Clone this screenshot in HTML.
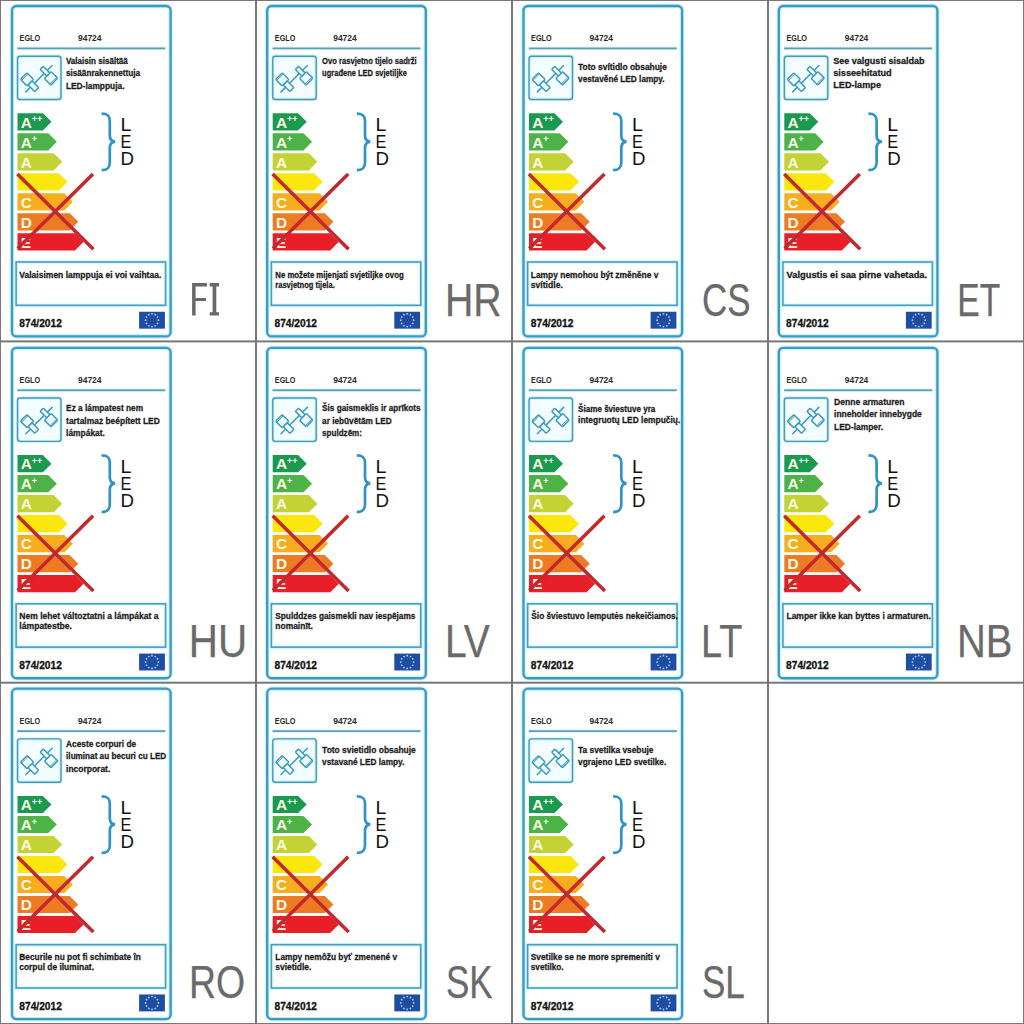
<!DOCTYPE html>
<html><head><meta charset="utf-8"><style>
html,body{margin:0;padding:0;background:#fff;width:1024px;height:1024px;overflow:hidden}
svg{display:block}
text{font-family:"Liberation Sans",sans-serif}
</style></head><body>
<svg width="1024" height="1024" viewBox="0 0 1024 1024">
<rect x="0" y="0" width="1024" height="1024" fill="#fff"/>
<g transform="translate(0,0.0)">
<rect x="12.0" y="6.0" width="158.6" height="330.4" rx="4.5" ry="4.5" fill="#fff" stroke="#c6f4fc" stroke-width="4.6"/>
<rect x="12.0" y="6.0" width="158.6" height="330.4" rx="4.5" ry="4.5" fill="none" stroke="#4197bf" stroke-width="2.3"/>
<text x="19.6" y="41.3" font-size="8.7" font-weight="700" fill="#2a2a2a" textLength="20.6" lengthAdjust="spacingAndGlyphs">EGLO</text>
<text x="78.0" y="41.3" font-size="8.7" font-weight="700" fill="#2a2a2a" textLength="23.54" lengthAdjust="spacingAndGlyphs">94724</text>
<rect x="17.3" y="46.6" width="148" height="3.6" fill="#d2f6fb"/>
<rect x="17.3" y="47.55" width="148" height="1.7" fill="#5f9cad"/>
<rect x="17.55" y="56.2" width="43.45" height="43.3" rx="2.5" ry="2.5" fill="#f3fdff" stroke="#c8f3fb" stroke-width="3.4"/>
<rect x="17.55" y="56.2" width="43.45" height="43.3" rx="2.5" ry="2.5" fill="none" stroke="#4f98b4" stroke-width="1.4"/>
<g transform="translate(39.55,78.15) rotate(-45)" fill="none" stroke="#3d9bbd" stroke-width="1.5" stroke-linejoin="round" stroke-linecap="round">
<line x1="-19.4" y1="0" x2="17.8" y2="0"/>
<rect x="-14.4" y="-12.6" width="9.3" height="9.3" rx="1.2" fill="#f0fcff"/>
<line x1="-14" y1="-11.1" x2="-5.5" y2="-11.1" stroke-width="0.9"/>
<rect x="-12.9" y="-3.3" width="5.6" height="9.3" rx="0.8" fill="#f0fcff"/>
<rect x="3.2" y="3.6" width="9.6" height="9.3" rx="1.2" fill="#f0fcff"/>
<line x1="3.6" y1="11.4" x2="12.4" y2="11.4" stroke-width="0.9"/>
<rect x="6.6" y="-5.7" width="4.4" height="9.3" rx="0.8" fill="#f0fcff"/>
</g>
<path d="M17.5 113.20 H42.90 L51.50 121.80 L42.90 130.40 H17.5 Z" fill="#1a9a4f"/>
<text x="20.8" y="127.60" font-size="15.4" font-weight="700" fill="#fffbe6">A</text>
<path d="M17.5 133.20 H48.25 L56.85 141.80 L48.25 150.40 H17.5 Z" fill="#4db349"/>
<text x="20.8" y="147.60" font-size="15.4" font-weight="700" fill="#fffbe6">A</text>
<path d="M17.5 153.20 H53.60 L62.20 161.80 L53.60 170.40 H17.5 Z" fill="#c3d234"/>
<text x="20.8" y="167.60" font-size="15.4" font-weight="700" fill="#fffbe6">A</text>
<path d="M17.5 173.20 H58.95 L67.55 181.80 L58.95 190.40 H17.5 Z" fill="#fbe70e"/>
<path d="M17.5 193.20 H64.30 L72.90 201.80 L64.30 210.40 H17.5 Z" fill="#f6ae1e"/>
<text x="20.8" y="207.60" font-size="15.4" font-weight="700" fill="#fffbe6">C</text>
<path d="M17.5 213.20 H69.65 L78.25 221.80 L69.65 230.40 H17.5 Z" fill="#ed7b24"/>
<text x="20.8" y="227.60" font-size="15.4" font-weight="700" fill="#fffbe6">D</text>
<path d="M17.5 233.20 H75.00 L83.60 241.80 L75.00 250.40 H17.5 Z" fill="#e81e28"/>
<text x="20.8" y="247.60" font-size="15.4" font-weight="700" fill="#fffbe6">E</text>
<text x="31.8" y="122.1" font-size="9" font-weight="700" fill="#f4fff4">++</text>
<text x="31.8" y="142.1" font-size="9" font-weight="700" fill="#f4fff4">+</text>
<path d="M17.4 174 L93.4 249.2 M93 174 L17.7 248.6" stroke="#c4282d" stroke-width="3.5" fill="none"/>
<path d="M101.6 113.6 C108 113.6 109.8 116 109.8 121 V135.5 C109.8 139 111.5 141.3 115 141.6 C111.5 142 109.8 144.2 109.8 148 V162.5 C109.8 167.5 108 170.2 101.6 170.2" fill="none" stroke="#3094c2" stroke-width="2.7"/>
<text x="120.4" y="131.3" font-size="18.6" font-weight="400" fill="#111" textLength="10.9" lengthAdjust="spacingAndGlyphs">L</text>
<text x="120.4" y="148.2" font-size="18.6" font-weight="400" fill="#111" textLength="10.9" lengthAdjust="spacingAndGlyphs">E</text>
<text x="120.4" y="165.1" font-size="18.6" font-weight="400" fill="#111" textLength="13.5" lengthAdjust="spacingAndGlyphs">D</text>
<rect x="16.1" y="262.0" width="149.5" height="43.3" fill="#fff" stroke="#ccf6fb" stroke-width="3.6"/>
<rect x="16.1" y="262.0" width="149.5" height="43.3" fill="none" stroke="#4e9dbd" stroke-width="1.6"/>
<text x="19.3" y="327.3" font-size="10.0" font-weight="700" fill="#111" stroke="#111" stroke-width="0.3" textLength="42.55" lengthAdjust="spacingAndGlyphs">874/2012</text>
<rect x="139.1" y="311.75" width="25.8" height="16.9" fill="#1d4ea4"/><circle cx="158.40" cy="320.20" r="0.85" fill="#c4d8ec"/><circle cx="157.54" cy="323.40" r="0.85" fill="#c4d8ec"/><circle cx="155.20" cy="325.74" r="0.85" fill="#c4d8ec"/><circle cx="152.00" cy="326.60" r="0.85" fill="#c4d8ec"/><circle cx="148.80" cy="325.74" r="0.85" fill="#c4d8ec"/><circle cx="146.46" cy="323.40" r="0.85" fill="#c4d8ec"/><circle cx="145.60" cy="320.20" r="0.85" fill="#c4d8ec"/><circle cx="146.46" cy="317.00" r="0.85" fill="#c4d8ec"/><circle cx="148.80" cy="314.66" r="0.85" fill="#c4d8ec"/><circle cx="152.00" cy="313.80" r="0.85" fill="#c4d8ec"/><circle cx="155.20" cy="314.66" r="0.85" fill="#c4d8ec"/><circle cx="157.54" cy="317.00" r="0.85" fill="#c4d8ec"/>
</g>
<g transform="translate(0,0.0)">
<text x="65.9" y="63.7" font-size="9.0" font-weight="700" fill="#1a1a1a" stroke="#1a1a1a" stroke-width="0.26" textLength="61.91" lengthAdjust="spacingAndGlyphs">Valaisin sisältää</text>
<text x="65.9" y="76.2" font-size="9.0" font-weight="700" fill="#1a1a1a" stroke="#1a1a1a" stroke-width="0.26" textLength="74.19" lengthAdjust="spacingAndGlyphs">sisäänrakennettuja</text>
<text x="65.9" y="88.7" font-size="9.0" font-weight="700" fill="#1a1a1a" stroke="#1a1a1a" stroke-width="0.26" textLength="58.57" lengthAdjust="spacingAndGlyphs">LED-lamppuja.</text>
<text x="19.3" y="277.9" font-size="9.2" font-weight="700" fill="#1a1a1a" stroke="#1a1a1a" stroke-width="0.26" textLength="142.01" lengthAdjust="spacingAndGlyphs">Valaisimen lamppuja ei voi vaihtaa.</text>
<path fill="#696969" d="M192.1 283.1 H206.9 V286.6 H195.6 V298.1 H206 V301 H195.6 V315.5 H192.1 Z M209.7 283.1 H219 V286.6 H216.3 V312.2 H219 V315.5 H209.7 V312.2 H212.6 V286.6 H209.7 Z"/>
</g>
<g transform="translate(255.2,0.0)">
<rect x="12.0" y="6.0" width="158.6" height="330.4" rx="4.5" ry="4.5" fill="#fff" stroke="#c6f4fc" stroke-width="4.6"/>
<rect x="12.0" y="6.0" width="158.6" height="330.4" rx="4.5" ry="4.5" fill="none" stroke="#4197bf" stroke-width="2.3"/>
<text x="19.6" y="41.3" font-size="8.7" font-weight="700" fill="#2a2a2a" textLength="20.6" lengthAdjust="spacingAndGlyphs">EGLO</text>
<text x="78.0" y="41.3" font-size="8.7" font-weight="700" fill="#2a2a2a" textLength="23.54" lengthAdjust="spacingAndGlyphs">94724</text>
<rect x="17.3" y="46.6" width="148" height="3.6" fill="#d2f6fb"/>
<rect x="17.3" y="47.55" width="148" height="1.7" fill="#5f9cad"/>
<rect x="17.55" y="56.2" width="43.45" height="43.3" rx="2.5" ry="2.5" fill="#f3fdff" stroke="#c8f3fb" stroke-width="3.4"/>
<rect x="17.55" y="56.2" width="43.45" height="43.3" rx="2.5" ry="2.5" fill="none" stroke="#4f98b4" stroke-width="1.4"/>
<g transform="translate(39.55,78.15) rotate(-45)" fill="none" stroke="#3d9bbd" stroke-width="1.5" stroke-linejoin="round" stroke-linecap="round">
<line x1="-19.4" y1="0" x2="17.8" y2="0"/>
<rect x="-14.4" y="-12.6" width="9.3" height="9.3" rx="1.2" fill="#f0fcff"/>
<line x1="-14" y1="-11.1" x2="-5.5" y2="-11.1" stroke-width="0.9"/>
<rect x="-12.9" y="-3.3" width="5.6" height="9.3" rx="0.8" fill="#f0fcff"/>
<rect x="3.2" y="3.6" width="9.6" height="9.3" rx="1.2" fill="#f0fcff"/>
<line x1="3.6" y1="11.4" x2="12.4" y2="11.4" stroke-width="0.9"/>
<rect x="6.6" y="-5.7" width="4.4" height="9.3" rx="0.8" fill="#f0fcff"/>
</g>
<path d="M17.5 113.20 H42.90 L51.50 121.80 L42.90 130.40 H17.5 Z" fill="#1a9a4f"/>
<text x="20.8" y="127.60" font-size="15.4" font-weight="700" fill="#fffbe6">A</text>
<path d="M17.5 133.20 H48.25 L56.85 141.80 L48.25 150.40 H17.5 Z" fill="#4db349"/>
<text x="20.8" y="147.60" font-size="15.4" font-weight="700" fill="#fffbe6">A</text>
<path d="M17.5 153.20 H53.60 L62.20 161.80 L53.60 170.40 H17.5 Z" fill="#c3d234"/>
<text x="20.8" y="167.60" font-size="15.4" font-weight="700" fill="#fffbe6">A</text>
<path d="M17.5 173.20 H58.95 L67.55 181.80 L58.95 190.40 H17.5 Z" fill="#fbe70e"/>
<path d="M17.5 193.20 H64.30 L72.90 201.80 L64.30 210.40 H17.5 Z" fill="#f6ae1e"/>
<text x="20.8" y="207.60" font-size="15.4" font-weight="700" fill="#fffbe6">C</text>
<path d="M17.5 213.20 H69.65 L78.25 221.80 L69.65 230.40 H17.5 Z" fill="#ed7b24"/>
<text x="20.8" y="227.60" font-size="15.4" font-weight="700" fill="#fffbe6">D</text>
<path d="M17.5 233.20 H75.00 L83.60 241.80 L75.00 250.40 H17.5 Z" fill="#e81e28"/>
<text x="20.8" y="247.60" font-size="15.4" font-weight="700" fill="#fffbe6">E</text>
<text x="31.8" y="122.1" font-size="9" font-weight="700" fill="#f4fff4">++</text>
<text x="31.8" y="142.1" font-size="9" font-weight="700" fill="#f4fff4">+</text>
<path d="M17.4 174 L93.4 249.2 M93 174 L17.7 248.6" stroke="#c4282d" stroke-width="3.5" fill="none"/>
<path d="M101.6 113.6 C108 113.6 109.8 116 109.8 121 V135.5 C109.8 139 111.5 141.3 115 141.6 C111.5 142 109.8 144.2 109.8 148 V162.5 C109.8 167.5 108 170.2 101.6 170.2" fill="none" stroke="#3094c2" stroke-width="2.7"/>
<text x="120.4" y="131.3" font-size="18.6" font-weight="400" fill="#111" textLength="10.9" lengthAdjust="spacingAndGlyphs">L</text>
<text x="120.4" y="148.2" font-size="18.6" font-weight="400" fill="#111" textLength="10.9" lengthAdjust="spacingAndGlyphs">E</text>
<text x="120.4" y="165.1" font-size="18.6" font-weight="400" fill="#111" textLength="13.5" lengthAdjust="spacingAndGlyphs">D</text>
<rect x="16.1" y="262.0" width="149.5" height="43.3" fill="#fff" stroke="#ccf6fb" stroke-width="3.6"/>
<rect x="16.1" y="262.0" width="149.5" height="43.3" fill="none" stroke="#4e9dbd" stroke-width="1.6"/>
<text x="19.3" y="327.3" font-size="10.0" font-weight="700" fill="#111" stroke="#111" stroke-width="0.3" textLength="42.55" lengthAdjust="spacingAndGlyphs">874/2012</text>
<rect x="139.1" y="311.75" width="25.8" height="16.9" fill="#1d4ea4"/><circle cx="158.40" cy="320.20" r="0.85" fill="#c4d8ec"/><circle cx="157.54" cy="323.40" r="0.85" fill="#c4d8ec"/><circle cx="155.20" cy="325.74" r="0.85" fill="#c4d8ec"/><circle cx="152.00" cy="326.60" r="0.85" fill="#c4d8ec"/><circle cx="148.80" cy="325.74" r="0.85" fill="#c4d8ec"/><circle cx="146.46" cy="323.40" r="0.85" fill="#c4d8ec"/><circle cx="145.60" cy="320.20" r="0.85" fill="#c4d8ec"/><circle cx="146.46" cy="317.00" r="0.85" fill="#c4d8ec"/><circle cx="148.80" cy="314.66" r="0.85" fill="#c4d8ec"/><circle cx="152.00" cy="313.80" r="0.85" fill="#c4d8ec"/><circle cx="155.20" cy="314.66" r="0.85" fill="#c4d8ec"/><circle cx="157.54" cy="317.00" r="0.85" fill="#c4d8ec"/>
</g>
<g transform="translate(256,0.0)">
<text x="66.1" y="63.6" font-size="9.0" font-weight="700" fill="#1a1a1a" stroke="#1a1a1a" stroke-width="0.26" textLength="94.62" lengthAdjust="spacingAndGlyphs">Ovo rasvjetno tijelo sadrži</text>
<text x="66.1" y="75.8" font-size="9.0" font-weight="700" fill="#1a1a1a" stroke="#1a1a1a" stroke-width="0.26" textLength="84.8" lengthAdjust="spacingAndGlyphs">ugrađene LED svjetiljke</text>
<text x="19.3" y="277.9" font-size="9.2" font-weight="700" fill="#1a1a1a" stroke="#1a1a1a" stroke-width="0.26" textLength="128.42" lengthAdjust="spacingAndGlyphs">Ne možete mijenjati svjetiljke ovog</text>
<text x="19.3" y="287.9" font-size="9.2" font-weight="700" fill="#1a1a1a" stroke="#1a1a1a" stroke-width="0.26" textLength="59.45" lengthAdjust="spacingAndGlyphs">rasvjetnog tijela.</text>
<text x="188.92" y="315.5" font-size="45.7" font-weight="400" fill="#6a6a6a" stroke="#6a6a6a" stroke-width="0.25" textLength="56.69" lengthAdjust="spacingAndGlyphs">HR</text>
</g>
<g transform="translate(511.5,0.0)">
<rect x="12.0" y="6.0" width="158.6" height="330.4" rx="4.5" ry="4.5" fill="#fff" stroke="#c6f4fc" stroke-width="4.6"/>
<rect x="12.0" y="6.0" width="158.6" height="330.4" rx="4.5" ry="4.5" fill="none" stroke="#4197bf" stroke-width="2.3"/>
<text x="19.6" y="41.3" font-size="8.7" font-weight="700" fill="#2a2a2a" textLength="20.6" lengthAdjust="spacingAndGlyphs">EGLO</text>
<text x="78.0" y="41.3" font-size="8.7" font-weight="700" fill="#2a2a2a" textLength="23.54" lengthAdjust="spacingAndGlyphs">94724</text>
<rect x="17.3" y="46.6" width="148" height="3.6" fill="#d2f6fb"/>
<rect x="17.3" y="47.55" width="148" height="1.7" fill="#5f9cad"/>
<rect x="17.55" y="56.2" width="43.45" height="43.3" rx="2.5" ry="2.5" fill="#f3fdff" stroke="#c8f3fb" stroke-width="3.4"/>
<rect x="17.55" y="56.2" width="43.45" height="43.3" rx="2.5" ry="2.5" fill="none" stroke="#4f98b4" stroke-width="1.4"/>
<g transform="translate(39.55,78.15) rotate(-45)" fill="none" stroke="#3d9bbd" stroke-width="1.5" stroke-linejoin="round" stroke-linecap="round">
<line x1="-19.4" y1="0" x2="17.8" y2="0"/>
<rect x="-14.4" y="-12.6" width="9.3" height="9.3" rx="1.2" fill="#f0fcff"/>
<line x1="-14" y1="-11.1" x2="-5.5" y2="-11.1" stroke-width="0.9"/>
<rect x="-12.9" y="-3.3" width="5.6" height="9.3" rx="0.8" fill="#f0fcff"/>
<rect x="3.2" y="3.6" width="9.6" height="9.3" rx="1.2" fill="#f0fcff"/>
<line x1="3.6" y1="11.4" x2="12.4" y2="11.4" stroke-width="0.9"/>
<rect x="6.6" y="-5.7" width="4.4" height="9.3" rx="0.8" fill="#f0fcff"/>
</g>
<path d="M17.5 113.20 H42.90 L51.50 121.80 L42.90 130.40 H17.5 Z" fill="#1a9a4f"/>
<text x="20.8" y="127.60" font-size="15.4" font-weight="700" fill="#fffbe6">A</text>
<path d="M17.5 133.20 H48.25 L56.85 141.80 L48.25 150.40 H17.5 Z" fill="#4db349"/>
<text x="20.8" y="147.60" font-size="15.4" font-weight="700" fill="#fffbe6">A</text>
<path d="M17.5 153.20 H53.60 L62.20 161.80 L53.60 170.40 H17.5 Z" fill="#c3d234"/>
<text x="20.8" y="167.60" font-size="15.4" font-weight="700" fill="#fffbe6">A</text>
<path d="M17.5 173.20 H58.95 L67.55 181.80 L58.95 190.40 H17.5 Z" fill="#fbe70e"/>
<path d="M17.5 193.20 H64.30 L72.90 201.80 L64.30 210.40 H17.5 Z" fill="#f6ae1e"/>
<text x="20.8" y="207.60" font-size="15.4" font-weight="700" fill="#fffbe6">C</text>
<path d="M17.5 213.20 H69.65 L78.25 221.80 L69.65 230.40 H17.5 Z" fill="#ed7b24"/>
<text x="20.8" y="227.60" font-size="15.4" font-weight="700" fill="#fffbe6">D</text>
<path d="M17.5 233.20 H75.00 L83.60 241.80 L75.00 250.40 H17.5 Z" fill="#e81e28"/>
<text x="20.8" y="247.60" font-size="15.4" font-weight="700" fill="#fffbe6">E</text>
<text x="31.8" y="122.1" font-size="9" font-weight="700" fill="#f4fff4">++</text>
<text x="31.8" y="142.1" font-size="9" font-weight="700" fill="#f4fff4">+</text>
<path d="M17.4 174 L93.4 249.2 M93 174 L17.7 248.6" stroke="#c4282d" stroke-width="3.5" fill="none"/>
<path d="M101.6 113.6 C108 113.6 109.8 116 109.8 121 V135.5 C109.8 139 111.5 141.3 115 141.6 C111.5 142 109.8 144.2 109.8 148 V162.5 C109.8 167.5 108 170.2 101.6 170.2" fill="none" stroke="#3094c2" stroke-width="2.7"/>
<text x="120.4" y="131.3" font-size="18.6" font-weight="400" fill="#111" textLength="10.9" lengthAdjust="spacingAndGlyphs">L</text>
<text x="120.4" y="148.2" font-size="18.6" font-weight="400" fill="#111" textLength="10.9" lengthAdjust="spacingAndGlyphs">E</text>
<text x="120.4" y="165.1" font-size="18.6" font-weight="400" fill="#111" textLength="13.5" lengthAdjust="spacingAndGlyphs">D</text>
<rect x="16.1" y="262.0" width="149.5" height="43.3" fill="#fff" stroke="#ccf6fb" stroke-width="3.6"/>
<rect x="16.1" y="262.0" width="149.5" height="43.3" fill="none" stroke="#4e9dbd" stroke-width="1.6"/>
<text x="19.3" y="327.3" font-size="10.0" font-weight="700" fill="#111" stroke="#111" stroke-width="0.3" textLength="42.55" lengthAdjust="spacingAndGlyphs">874/2012</text>
<rect x="139.1" y="311.75" width="25.8" height="16.9" fill="#1d4ea4"/><circle cx="158.40" cy="320.20" r="0.85" fill="#c4d8ec"/><circle cx="157.54" cy="323.40" r="0.85" fill="#c4d8ec"/><circle cx="155.20" cy="325.74" r="0.85" fill="#c4d8ec"/><circle cx="152.00" cy="326.60" r="0.85" fill="#c4d8ec"/><circle cx="148.80" cy="325.74" r="0.85" fill="#c4d8ec"/><circle cx="146.46" cy="323.40" r="0.85" fill="#c4d8ec"/><circle cx="145.60" cy="320.20" r="0.85" fill="#c4d8ec"/><circle cx="146.46" cy="317.00" r="0.85" fill="#c4d8ec"/><circle cx="148.80" cy="314.66" r="0.85" fill="#c4d8ec"/><circle cx="152.00" cy="313.80" r="0.85" fill="#c4d8ec"/><circle cx="155.20" cy="314.66" r="0.85" fill="#c4d8ec"/><circle cx="157.54" cy="317.00" r="0.85" fill="#c4d8ec"/>
</g>
<g transform="translate(512,0.0)">
<text x="66.1" y="70.4" font-size="9.0" font-weight="700" fill="#1a1a1a" stroke="#1a1a1a" stroke-width="0.26" textLength="88.81" lengthAdjust="spacingAndGlyphs">Toto svítidlo obsahuje</text>
<text x="66.1" y="82.3" font-size="9.0" font-weight="700" fill="#1a1a1a" stroke="#1a1a1a" stroke-width="0.26" textLength="86.56" lengthAdjust="spacingAndGlyphs">vestavěné LED lampy.</text>
<text x="18.8" y="277.9" font-size="9.2" font-weight="700" fill="#1a1a1a" stroke="#1a1a1a" stroke-width="0.26" textLength="127.58" lengthAdjust="spacingAndGlyphs">Lampy nemohou být změněne v</text>
<text x="18.8" y="288.4" font-size="9.2" font-weight="700" fill="#1a1a1a" stroke="#1a1a1a" stroke-width="0.26" textLength="32.02" lengthAdjust="spacingAndGlyphs">svítidle.</text>
<text x="189.97" y="315.5" font-size="45.7" font-weight="400" fill="#6a6a6a" stroke="#6a6a6a" stroke-width="0.25" textLength="48.45" lengthAdjust="spacingAndGlyphs">CS</text>
</g>
<g transform="translate(766.8,0.0)">
<rect x="12.0" y="6.0" width="158.6" height="330.4" rx="4.5" ry="4.5" fill="#fff" stroke="#c6f4fc" stroke-width="4.6"/>
<rect x="12.0" y="6.0" width="158.6" height="330.4" rx="4.5" ry="4.5" fill="none" stroke="#4197bf" stroke-width="2.3"/>
<text x="19.6" y="41.3" font-size="8.7" font-weight="700" fill="#2a2a2a" textLength="20.6" lengthAdjust="spacingAndGlyphs">EGLO</text>
<text x="78.0" y="41.3" font-size="8.7" font-weight="700" fill="#2a2a2a" textLength="23.54" lengthAdjust="spacingAndGlyphs">94724</text>
<rect x="17.3" y="46.6" width="148" height="3.6" fill="#d2f6fb"/>
<rect x="17.3" y="47.55" width="148" height="1.7" fill="#5f9cad"/>
<rect x="17.55" y="56.2" width="43.45" height="43.3" rx="2.5" ry="2.5" fill="#f3fdff" stroke="#c8f3fb" stroke-width="3.4"/>
<rect x="17.55" y="56.2" width="43.45" height="43.3" rx="2.5" ry="2.5" fill="none" stroke="#4f98b4" stroke-width="1.4"/>
<g transform="translate(39.55,78.15) rotate(-45)" fill="none" stroke="#3d9bbd" stroke-width="1.5" stroke-linejoin="round" stroke-linecap="round">
<line x1="-19.4" y1="0" x2="17.8" y2="0"/>
<rect x="-14.4" y="-12.6" width="9.3" height="9.3" rx="1.2" fill="#f0fcff"/>
<line x1="-14" y1="-11.1" x2="-5.5" y2="-11.1" stroke-width="0.9"/>
<rect x="-12.9" y="-3.3" width="5.6" height="9.3" rx="0.8" fill="#f0fcff"/>
<rect x="3.2" y="3.6" width="9.6" height="9.3" rx="1.2" fill="#f0fcff"/>
<line x1="3.6" y1="11.4" x2="12.4" y2="11.4" stroke-width="0.9"/>
<rect x="6.6" y="-5.7" width="4.4" height="9.3" rx="0.8" fill="#f0fcff"/>
</g>
<path d="M17.5 113.20 H42.90 L51.50 121.80 L42.90 130.40 H17.5 Z" fill="#1a9a4f"/>
<text x="20.8" y="127.60" font-size="15.4" font-weight="700" fill="#fffbe6">A</text>
<path d="M17.5 133.20 H48.25 L56.85 141.80 L48.25 150.40 H17.5 Z" fill="#4db349"/>
<text x="20.8" y="147.60" font-size="15.4" font-weight="700" fill="#fffbe6">A</text>
<path d="M17.5 153.20 H53.60 L62.20 161.80 L53.60 170.40 H17.5 Z" fill="#c3d234"/>
<text x="20.8" y="167.60" font-size="15.4" font-weight="700" fill="#fffbe6">A</text>
<path d="M17.5 173.20 H58.95 L67.55 181.80 L58.95 190.40 H17.5 Z" fill="#fbe70e"/>
<path d="M17.5 193.20 H64.30 L72.90 201.80 L64.30 210.40 H17.5 Z" fill="#f6ae1e"/>
<text x="20.8" y="207.60" font-size="15.4" font-weight="700" fill="#fffbe6">C</text>
<path d="M17.5 213.20 H69.65 L78.25 221.80 L69.65 230.40 H17.5 Z" fill="#ed7b24"/>
<text x="20.8" y="227.60" font-size="15.4" font-weight="700" fill="#fffbe6">D</text>
<path d="M17.5 233.20 H75.00 L83.60 241.80 L75.00 250.40 H17.5 Z" fill="#e81e28"/>
<text x="20.8" y="247.60" font-size="15.4" font-weight="700" fill="#fffbe6">E</text>
<text x="31.8" y="122.1" font-size="9" font-weight="700" fill="#f4fff4">++</text>
<text x="31.8" y="142.1" font-size="9" font-weight="700" fill="#f4fff4">+</text>
<path d="M17.4 174 L93.4 249.2 M93 174 L17.7 248.6" stroke="#c4282d" stroke-width="3.5" fill="none"/>
<path d="M101.6 113.6 C108 113.6 109.8 116 109.8 121 V135.5 C109.8 139 111.5 141.3 115 141.6 C111.5 142 109.8 144.2 109.8 148 V162.5 C109.8 167.5 108 170.2 101.6 170.2" fill="none" stroke="#3094c2" stroke-width="2.7"/>
<text x="120.4" y="131.3" font-size="18.6" font-weight="400" fill="#111" textLength="10.9" lengthAdjust="spacingAndGlyphs">L</text>
<text x="120.4" y="148.2" font-size="18.6" font-weight="400" fill="#111" textLength="10.9" lengthAdjust="spacingAndGlyphs">E</text>
<text x="120.4" y="165.1" font-size="18.6" font-weight="400" fill="#111" textLength="13.5" lengthAdjust="spacingAndGlyphs">D</text>
<rect x="16.1" y="262.0" width="149.5" height="43.3" fill="#fff" stroke="#ccf6fb" stroke-width="3.6"/>
<rect x="16.1" y="262.0" width="149.5" height="43.3" fill="none" stroke="#4e9dbd" stroke-width="1.6"/>
<text x="19.3" y="327.3" font-size="10.0" font-weight="700" fill="#111" stroke="#111" stroke-width="0.3" textLength="42.55" lengthAdjust="spacingAndGlyphs">874/2012</text>
<rect x="139.1" y="311.75" width="25.8" height="16.9" fill="#1d4ea4"/><circle cx="158.40" cy="320.20" r="0.85" fill="#c4d8ec"/><circle cx="157.54" cy="323.40" r="0.85" fill="#c4d8ec"/><circle cx="155.20" cy="325.74" r="0.85" fill="#c4d8ec"/><circle cx="152.00" cy="326.60" r="0.85" fill="#c4d8ec"/><circle cx="148.80" cy="325.74" r="0.85" fill="#c4d8ec"/><circle cx="146.46" cy="323.40" r="0.85" fill="#c4d8ec"/><circle cx="145.60" cy="320.20" r="0.85" fill="#c4d8ec"/><circle cx="146.46" cy="317.00" r="0.85" fill="#c4d8ec"/><circle cx="148.80" cy="314.66" r="0.85" fill="#c4d8ec"/><circle cx="152.00" cy="313.80" r="0.85" fill="#c4d8ec"/><circle cx="155.20" cy="314.66" r="0.85" fill="#c4d8ec"/><circle cx="157.54" cy="317.00" r="0.85" fill="#c4d8ec"/>
</g>
<g transform="translate(768,0.0)">
<text x="65.2" y="63.6" font-size="9.0" font-weight="700" fill="#1a1a1a" stroke="#1a1a1a" stroke-width="0.26" textLength="91.4" lengthAdjust="spacingAndGlyphs">See valgusti sisaldab</text>
<text x="65.2" y="75.8" font-size="9.0" font-weight="700" fill="#1a1a1a" stroke="#1a1a1a" stroke-width="0.26" textLength="58.51" lengthAdjust="spacingAndGlyphs">sisseehitatud</text>
<text x="65.2" y="88.0" font-size="9.0" font-weight="700" fill="#1a1a1a" stroke="#1a1a1a" stroke-width="0.26" textLength="47.81" lengthAdjust="spacingAndGlyphs">LED-lampe</text>
<text x="18.5" y="277.9" font-size="9.2" font-weight="700" fill="#1a1a1a" stroke="#1a1a1a" stroke-width="0.26" textLength="140.66" lengthAdjust="spacingAndGlyphs">Valgustis ei saa pirne vahetada.</text>
<text x="189.29" y="315.5" font-size="45.7" font-weight="400" fill="#6a6a6a" stroke="#6a6a6a" stroke-width="0.25" textLength="42.98" lengthAdjust="spacingAndGlyphs">ET</text>
</g>
<g transform="translate(0,341.83)">
<rect x="12.0" y="6.0" width="158.6" height="330.4" rx="4.5" ry="4.5" fill="#fff" stroke="#c6f4fc" stroke-width="4.6"/>
<rect x="12.0" y="6.0" width="158.6" height="330.4" rx="4.5" ry="4.5" fill="none" stroke="#4197bf" stroke-width="2.3"/>
<text x="19.6" y="41.3" font-size="8.7" font-weight="700" fill="#2a2a2a" textLength="20.6" lengthAdjust="spacingAndGlyphs">EGLO</text>
<text x="78.0" y="41.3" font-size="8.7" font-weight="700" fill="#2a2a2a" textLength="23.54" lengthAdjust="spacingAndGlyphs">94724</text>
<rect x="17.3" y="46.6" width="148" height="3.6" fill="#d2f6fb"/>
<rect x="17.3" y="47.55" width="148" height="1.7" fill="#5f9cad"/>
<rect x="17.55" y="56.2" width="43.45" height="43.3" rx="2.5" ry="2.5" fill="#f3fdff" stroke="#c8f3fb" stroke-width="3.4"/>
<rect x="17.55" y="56.2" width="43.45" height="43.3" rx="2.5" ry="2.5" fill="none" stroke="#4f98b4" stroke-width="1.4"/>
<g transform="translate(39.55,78.15) rotate(-45)" fill="none" stroke="#3d9bbd" stroke-width="1.5" stroke-linejoin="round" stroke-linecap="round">
<line x1="-19.4" y1="0" x2="17.8" y2="0"/>
<rect x="-14.4" y="-12.6" width="9.3" height="9.3" rx="1.2" fill="#f0fcff"/>
<line x1="-14" y1="-11.1" x2="-5.5" y2="-11.1" stroke-width="0.9"/>
<rect x="-12.9" y="-3.3" width="5.6" height="9.3" rx="0.8" fill="#f0fcff"/>
<rect x="3.2" y="3.6" width="9.6" height="9.3" rx="1.2" fill="#f0fcff"/>
<line x1="3.6" y1="11.4" x2="12.4" y2="11.4" stroke-width="0.9"/>
<rect x="6.6" y="-5.7" width="4.4" height="9.3" rx="0.8" fill="#f0fcff"/>
</g>
<path d="M17.5 113.20 H42.90 L51.50 121.80 L42.90 130.40 H17.5 Z" fill="#1a9a4f"/>
<text x="20.8" y="127.60" font-size="15.4" font-weight="700" fill="#fffbe6">A</text>
<path d="M17.5 133.20 H48.25 L56.85 141.80 L48.25 150.40 H17.5 Z" fill="#4db349"/>
<text x="20.8" y="147.60" font-size="15.4" font-weight="700" fill="#fffbe6">A</text>
<path d="M17.5 153.20 H53.60 L62.20 161.80 L53.60 170.40 H17.5 Z" fill="#c3d234"/>
<text x="20.8" y="167.60" font-size="15.4" font-weight="700" fill="#fffbe6">A</text>
<path d="M17.5 173.20 H58.95 L67.55 181.80 L58.95 190.40 H17.5 Z" fill="#fbe70e"/>
<path d="M17.5 193.20 H64.30 L72.90 201.80 L64.30 210.40 H17.5 Z" fill="#f6ae1e"/>
<text x="20.8" y="207.60" font-size="15.4" font-weight="700" fill="#fffbe6">C</text>
<path d="M17.5 213.20 H69.65 L78.25 221.80 L69.65 230.40 H17.5 Z" fill="#ed7b24"/>
<text x="20.8" y="227.60" font-size="15.4" font-weight="700" fill="#fffbe6">D</text>
<path d="M17.5 233.20 H75.00 L83.60 241.80 L75.00 250.40 H17.5 Z" fill="#e81e28"/>
<text x="20.8" y="247.60" font-size="15.4" font-weight="700" fill="#fffbe6">E</text>
<text x="31.8" y="122.1" font-size="9" font-weight="700" fill="#f4fff4">++</text>
<text x="31.8" y="142.1" font-size="9" font-weight="700" fill="#f4fff4">+</text>
<path d="M17.4 174 L93.4 249.2 M93 174 L17.7 248.6" stroke="#c4282d" stroke-width="3.5" fill="none"/>
<path d="M101.6 113.6 C108 113.6 109.8 116 109.8 121 V135.5 C109.8 139 111.5 141.3 115 141.6 C111.5 142 109.8 144.2 109.8 148 V162.5 C109.8 167.5 108 170.2 101.6 170.2" fill="none" stroke="#3094c2" stroke-width="2.7"/>
<text x="120.4" y="131.3" font-size="18.6" font-weight="400" fill="#111" textLength="10.9" lengthAdjust="spacingAndGlyphs">L</text>
<text x="120.4" y="148.2" font-size="18.6" font-weight="400" fill="#111" textLength="10.9" lengthAdjust="spacingAndGlyphs">E</text>
<text x="120.4" y="165.1" font-size="18.6" font-weight="400" fill="#111" textLength="13.5" lengthAdjust="spacingAndGlyphs">D</text>
<rect x="16.1" y="262.0" width="149.5" height="43.3" fill="#fff" stroke="#ccf6fb" stroke-width="3.6"/>
<rect x="16.1" y="262.0" width="149.5" height="43.3" fill="none" stroke="#4e9dbd" stroke-width="1.6"/>
<text x="19.3" y="327.3" font-size="10.0" font-weight="700" fill="#111" stroke="#111" stroke-width="0.3" textLength="42.55" lengthAdjust="spacingAndGlyphs">874/2012</text>
<rect x="139.1" y="311.75" width="25.8" height="16.9" fill="#1d4ea4"/><circle cx="158.40" cy="320.20" r="0.85" fill="#c4d8ec"/><circle cx="157.54" cy="323.40" r="0.85" fill="#c4d8ec"/><circle cx="155.20" cy="325.74" r="0.85" fill="#c4d8ec"/><circle cx="152.00" cy="326.60" r="0.85" fill="#c4d8ec"/><circle cx="148.80" cy="325.74" r="0.85" fill="#c4d8ec"/><circle cx="146.46" cy="323.40" r="0.85" fill="#c4d8ec"/><circle cx="145.60" cy="320.20" r="0.85" fill="#c4d8ec"/><circle cx="146.46" cy="317.00" r="0.85" fill="#c4d8ec"/><circle cx="148.80" cy="314.66" r="0.85" fill="#c4d8ec"/><circle cx="152.00" cy="313.80" r="0.85" fill="#c4d8ec"/><circle cx="155.20" cy="314.66" r="0.85" fill="#c4d8ec"/><circle cx="157.54" cy="317.00" r="0.85" fill="#c4d8ec"/>
</g>
<g transform="translate(0,341.33)">
<text x="66.1" y="69.9" font-size="9.0" font-weight="700" fill="#1a1a1a" stroke="#1a1a1a" stroke-width="0.26" textLength="77.0" lengthAdjust="spacingAndGlyphs">Ez a lámpatest nem</text>
<text x="66.1" y="82.3" font-size="9.0" font-weight="700" fill="#1a1a1a" stroke="#1a1a1a" stroke-width="0.26" textLength="93.73" lengthAdjust="spacingAndGlyphs">tartalmaz beépített LED</text>
<text x="66.1" y="94.3" font-size="9.0" font-weight="700" fill="#1a1a1a" stroke="#1a1a1a" stroke-width="0.26" textLength="38.77" lengthAdjust="spacingAndGlyphs">lámpákat.</text>
<text x="19.3" y="277.6" font-size="9.2" font-weight="700" fill="#1a1a1a" stroke="#1a1a1a" stroke-width="0.26" textLength="139.17" lengthAdjust="spacingAndGlyphs">Nem lehet változtatni a lámpákat a</text>
<text x="19.3" y="288.1" font-size="9.2" font-weight="700" fill="#1a1a1a" stroke="#1a1a1a" stroke-width="0.26" textLength="52.72" lengthAdjust="spacingAndGlyphs">lámpatestbe.</text>
<text x="188.84" y="315.5" font-size="45.7" font-weight="400" fill="#6a6a6a" stroke="#6a6a6a" stroke-width="0.25" textLength="58.41" lengthAdjust="spacingAndGlyphs">HU</text>
</g>
<g transform="translate(255.2,341.83)">
<rect x="12.0" y="6.0" width="158.6" height="330.4" rx="4.5" ry="4.5" fill="#fff" stroke="#c6f4fc" stroke-width="4.6"/>
<rect x="12.0" y="6.0" width="158.6" height="330.4" rx="4.5" ry="4.5" fill="none" stroke="#4197bf" stroke-width="2.3"/>
<text x="19.6" y="41.3" font-size="8.7" font-weight="700" fill="#2a2a2a" textLength="20.6" lengthAdjust="spacingAndGlyphs">EGLO</text>
<text x="78.0" y="41.3" font-size="8.7" font-weight="700" fill="#2a2a2a" textLength="23.54" lengthAdjust="spacingAndGlyphs">94724</text>
<rect x="17.3" y="46.6" width="148" height="3.6" fill="#d2f6fb"/>
<rect x="17.3" y="47.55" width="148" height="1.7" fill="#5f9cad"/>
<rect x="17.55" y="56.2" width="43.45" height="43.3" rx="2.5" ry="2.5" fill="#f3fdff" stroke="#c8f3fb" stroke-width="3.4"/>
<rect x="17.55" y="56.2" width="43.45" height="43.3" rx="2.5" ry="2.5" fill="none" stroke="#4f98b4" stroke-width="1.4"/>
<g transform="translate(39.55,78.15) rotate(-45)" fill="none" stroke="#3d9bbd" stroke-width="1.5" stroke-linejoin="round" stroke-linecap="round">
<line x1="-19.4" y1="0" x2="17.8" y2="0"/>
<rect x="-14.4" y="-12.6" width="9.3" height="9.3" rx="1.2" fill="#f0fcff"/>
<line x1="-14" y1="-11.1" x2="-5.5" y2="-11.1" stroke-width="0.9"/>
<rect x="-12.9" y="-3.3" width="5.6" height="9.3" rx="0.8" fill="#f0fcff"/>
<rect x="3.2" y="3.6" width="9.6" height="9.3" rx="1.2" fill="#f0fcff"/>
<line x1="3.6" y1="11.4" x2="12.4" y2="11.4" stroke-width="0.9"/>
<rect x="6.6" y="-5.7" width="4.4" height="9.3" rx="0.8" fill="#f0fcff"/>
</g>
<path d="M17.5 113.20 H42.90 L51.50 121.80 L42.90 130.40 H17.5 Z" fill="#1a9a4f"/>
<text x="20.8" y="127.60" font-size="15.4" font-weight="700" fill="#fffbe6">A</text>
<path d="M17.5 133.20 H48.25 L56.85 141.80 L48.25 150.40 H17.5 Z" fill="#4db349"/>
<text x="20.8" y="147.60" font-size="15.4" font-weight="700" fill="#fffbe6">A</text>
<path d="M17.5 153.20 H53.60 L62.20 161.80 L53.60 170.40 H17.5 Z" fill="#c3d234"/>
<text x="20.8" y="167.60" font-size="15.4" font-weight="700" fill="#fffbe6">A</text>
<path d="M17.5 173.20 H58.95 L67.55 181.80 L58.95 190.40 H17.5 Z" fill="#fbe70e"/>
<path d="M17.5 193.20 H64.30 L72.90 201.80 L64.30 210.40 H17.5 Z" fill="#f6ae1e"/>
<text x="20.8" y="207.60" font-size="15.4" font-weight="700" fill="#fffbe6">C</text>
<path d="M17.5 213.20 H69.65 L78.25 221.80 L69.65 230.40 H17.5 Z" fill="#ed7b24"/>
<text x="20.8" y="227.60" font-size="15.4" font-weight="700" fill="#fffbe6">D</text>
<path d="M17.5 233.20 H75.00 L83.60 241.80 L75.00 250.40 H17.5 Z" fill="#e81e28"/>
<text x="20.8" y="247.60" font-size="15.4" font-weight="700" fill="#fffbe6">E</text>
<text x="31.8" y="122.1" font-size="9" font-weight="700" fill="#f4fff4">++</text>
<text x="31.8" y="142.1" font-size="9" font-weight="700" fill="#f4fff4">+</text>
<path d="M17.4 174 L93.4 249.2 M93 174 L17.7 248.6" stroke="#c4282d" stroke-width="3.5" fill="none"/>
<path d="M101.6 113.6 C108 113.6 109.8 116 109.8 121 V135.5 C109.8 139 111.5 141.3 115 141.6 C111.5 142 109.8 144.2 109.8 148 V162.5 C109.8 167.5 108 170.2 101.6 170.2" fill="none" stroke="#3094c2" stroke-width="2.7"/>
<text x="120.4" y="131.3" font-size="18.6" font-weight="400" fill="#111" textLength="10.9" lengthAdjust="spacingAndGlyphs">L</text>
<text x="120.4" y="148.2" font-size="18.6" font-weight="400" fill="#111" textLength="10.9" lengthAdjust="spacingAndGlyphs">E</text>
<text x="120.4" y="165.1" font-size="18.6" font-weight="400" fill="#111" textLength="13.5" lengthAdjust="spacingAndGlyphs">D</text>
<rect x="16.1" y="262.0" width="149.5" height="43.3" fill="#fff" stroke="#ccf6fb" stroke-width="3.6"/>
<rect x="16.1" y="262.0" width="149.5" height="43.3" fill="none" stroke="#4e9dbd" stroke-width="1.6"/>
<text x="19.3" y="327.3" font-size="10.0" font-weight="700" fill="#111" stroke="#111" stroke-width="0.3" textLength="42.55" lengthAdjust="spacingAndGlyphs">874/2012</text>
<rect x="139.1" y="311.75" width="25.8" height="16.9" fill="#1d4ea4"/><circle cx="158.40" cy="320.20" r="0.85" fill="#c4d8ec"/><circle cx="157.54" cy="323.40" r="0.85" fill="#c4d8ec"/><circle cx="155.20" cy="325.74" r="0.85" fill="#c4d8ec"/><circle cx="152.00" cy="326.60" r="0.85" fill="#c4d8ec"/><circle cx="148.80" cy="325.74" r="0.85" fill="#c4d8ec"/><circle cx="146.46" cy="323.40" r="0.85" fill="#c4d8ec"/><circle cx="145.60" cy="320.20" r="0.85" fill="#c4d8ec"/><circle cx="146.46" cy="317.00" r="0.85" fill="#c4d8ec"/><circle cx="148.80" cy="314.66" r="0.85" fill="#c4d8ec"/><circle cx="152.00" cy="313.80" r="0.85" fill="#c4d8ec"/><circle cx="155.20" cy="314.66" r="0.85" fill="#c4d8ec"/><circle cx="157.54" cy="317.00" r="0.85" fill="#c4d8ec"/>
</g>
<g transform="translate(256,341.33)">
<text x="66.1" y="69.9" font-size="9.0" font-weight="700" fill="#1a1a1a" stroke="#1a1a1a" stroke-width="0.26" textLength="98.5" lengthAdjust="spacingAndGlyphs">Šis gaismeklis ir aprīkots</text>
<text x="66.1" y="82.3" font-size="9.0" font-weight="700" fill="#1a1a1a" stroke="#1a1a1a" stroke-width="0.26" textLength="69.54" lengthAdjust="spacingAndGlyphs">ar iebūvētām LED</text>
<text x="66.1" y="94.3" font-size="9.0" font-weight="700" fill="#1a1a1a" stroke="#1a1a1a" stroke-width="0.26" textLength="39.9" lengthAdjust="spacingAndGlyphs">spuldzēm:</text>
<text x="19.3" y="277.6" font-size="9.2" font-weight="700" fill="#1a1a1a" stroke="#1a1a1a" stroke-width="0.26" textLength="140.1" lengthAdjust="spacingAndGlyphs">Spulddzes gaismekli nav iespējams</text>
<text x="19.3" y="288.1" font-size="9.2" font-weight="700" fill="#1a1a1a" stroke="#1a1a1a" stroke-width="0.26" textLength="37.61" lengthAdjust="spacingAndGlyphs">nomainīt.</text>
<text x="188.94" y="315.5" font-size="45.7" font-weight="400" fill="#6a6a6a" stroke="#6a6a6a" stroke-width="0.25" textLength="44.81" lengthAdjust="spacingAndGlyphs">LV</text>
</g>
<g transform="translate(511.5,341.83)">
<rect x="12.0" y="6.0" width="158.6" height="330.4" rx="4.5" ry="4.5" fill="#fff" stroke="#c6f4fc" stroke-width="4.6"/>
<rect x="12.0" y="6.0" width="158.6" height="330.4" rx="4.5" ry="4.5" fill="none" stroke="#4197bf" stroke-width="2.3"/>
<text x="19.6" y="41.3" font-size="8.7" font-weight="700" fill="#2a2a2a" textLength="20.6" lengthAdjust="spacingAndGlyphs">EGLO</text>
<text x="78.0" y="41.3" font-size="8.7" font-weight="700" fill="#2a2a2a" textLength="23.54" lengthAdjust="spacingAndGlyphs">94724</text>
<rect x="17.3" y="46.6" width="148" height="3.6" fill="#d2f6fb"/>
<rect x="17.3" y="47.55" width="148" height="1.7" fill="#5f9cad"/>
<rect x="17.55" y="56.2" width="43.45" height="43.3" rx="2.5" ry="2.5" fill="#f3fdff" stroke="#c8f3fb" stroke-width="3.4"/>
<rect x="17.55" y="56.2" width="43.45" height="43.3" rx="2.5" ry="2.5" fill="none" stroke="#4f98b4" stroke-width="1.4"/>
<g transform="translate(39.55,78.15) rotate(-45)" fill="none" stroke="#3d9bbd" stroke-width="1.5" stroke-linejoin="round" stroke-linecap="round">
<line x1="-19.4" y1="0" x2="17.8" y2="0"/>
<rect x="-14.4" y="-12.6" width="9.3" height="9.3" rx="1.2" fill="#f0fcff"/>
<line x1="-14" y1="-11.1" x2="-5.5" y2="-11.1" stroke-width="0.9"/>
<rect x="-12.9" y="-3.3" width="5.6" height="9.3" rx="0.8" fill="#f0fcff"/>
<rect x="3.2" y="3.6" width="9.6" height="9.3" rx="1.2" fill="#f0fcff"/>
<line x1="3.6" y1="11.4" x2="12.4" y2="11.4" stroke-width="0.9"/>
<rect x="6.6" y="-5.7" width="4.4" height="9.3" rx="0.8" fill="#f0fcff"/>
</g>
<path d="M17.5 113.20 H42.90 L51.50 121.80 L42.90 130.40 H17.5 Z" fill="#1a9a4f"/>
<text x="20.8" y="127.60" font-size="15.4" font-weight="700" fill="#fffbe6">A</text>
<path d="M17.5 133.20 H48.25 L56.85 141.80 L48.25 150.40 H17.5 Z" fill="#4db349"/>
<text x="20.8" y="147.60" font-size="15.4" font-weight="700" fill="#fffbe6">A</text>
<path d="M17.5 153.20 H53.60 L62.20 161.80 L53.60 170.40 H17.5 Z" fill="#c3d234"/>
<text x="20.8" y="167.60" font-size="15.4" font-weight="700" fill="#fffbe6">A</text>
<path d="M17.5 173.20 H58.95 L67.55 181.80 L58.95 190.40 H17.5 Z" fill="#fbe70e"/>
<path d="M17.5 193.20 H64.30 L72.90 201.80 L64.30 210.40 H17.5 Z" fill="#f6ae1e"/>
<text x="20.8" y="207.60" font-size="15.4" font-weight="700" fill="#fffbe6">C</text>
<path d="M17.5 213.20 H69.65 L78.25 221.80 L69.65 230.40 H17.5 Z" fill="#ed7b24"/>
<text x="20.8" y="227.60" font-size="15.4" font-weight="700" fill="#fffbe6">D</text>
<path d="M17.5 233.20 H75.00 L83.60 241.80 L75.00 250.40 H17.5 Z" fill="#e81e28"/>
<text x="20.8" y="247.60" font-size="15.4" font-weight="700" fill="#fffbe6">E</text>
<text x="31.8" y="122.1" font-size="9" font-weight="700" fill="#f4fff4">++</text>
<text x="31.8" y="142.1" font-size="9" font-weight="700" fill="#f4fff4">+</text>
<path d="M17.4 174 L93.4 249.2 M93 174 L17.7 248.6" stroke="#c4282d" stroke-width="3.5" fill="none"/>
<path d="M101.6 113.6 C108 113.6 109.8 116 109.8 121 V135.5 C109.8 139 111.5 141.3 115 141.6 C111.5 142 109.8 144.2 109.8 148 V162.5 C109.8 167.5 108 170.2 101.6 170.2" fill="none" stroke="#3094c2" stroke-width="2.7"/>
<text x="120.4" y="131.3" font-size="18.6" font-weight="400" fill="#111" textLength="10.9" lengthAdjust="spacingAndGlyphs">L</text>
<text x="120.4" y="148.2" font-size="18.6" font-weight="400" fill="#111" textLength="10.9" lengthAdjust="spacingAndGlyphs">E</text>
<text x="120.4" y="165.1" font-size="18.6" font-weight="400" fill="#111" textLength="13.5" lengthAdjust="spacingAndGlyphs">D</text>
<rect x="16.1" y="262.0" width="149.5" height="43.3" fill="#fff" stroke="#ccf6fb" stroke-width="3.6"/>
<rect x="16.1" y="262.0" width="149.5" height="43.3" fill="none" stroke="#4e9dbd" stroke-width="1.6"/>
<text x="19.3" y="327.3" font-size="10.0" font-weight="700" fill="#111" stroke="#111" stroke-width="0.3" textLength="42.55" lengthAdjust="spacingAndGlyphs">874/2012</text>
<rect x="139.1" y="311.75" width="25.8" height="16.9" fill="#1d4ea4"/><circle cx="158.40" cy="320.20" r="0.85" fill="#c4d8ec"/><circle cx="157.54" cy="323.40" r="0.85" fill="#c4d8ec"/><circle cx="155.20" cy="325.74" r="0.85" fill="#c4d8ec"/><circle cx="152.00" cy="326.60" r="0.85" fill="#c4d8ec"/><circle cx="148.80" cy="325.74" r="0.85" fill="#c4d8ec"/><circle cx="146.46" cy="323.40" r="0.85" fill="#c4d8ec"/><circle cx="145.60" cy="320.20" r="0.85" fill="#c4d8ec"/><circle cx="146.46" cy="317.00" r="0.85" fill="#c4d8ec"/><circle cx="148.80" cy="314.66" r="0.85" fill="#c4d8ec"/><circle cx="152.00" cy="313.80" r="0.85" fill="#c4d8ec"/><circle cx="155.20" cy="314.66" r="0.85" fill="#c4d8ec"/><circle cx="157.54" cy="317.00" r="0.85" fill="#c4d8ec"/>
</g>
<g transform="translate(512,341.33)">
<text x="66.1" y="70.2" font-size="9.0" font-weight="700" fill="#1a1a1a" stroke="#1a1a1a" stroke-width="0.26" textLength="77.21" lengthAdjust="spacingAndGlyphs">Šiame šviestuve yra</text>
<text x="66.1" y="82.0" font-size="9.0" font-weight="700" fill="#1a1a1a" stroke="#1a1a1a" stroke-width="0.26" textLength="102.17" lengthAdjust="spacingAndGlyphs">integruotų LED lempučių.</text>
<text x="19.3" y="277.6" font-size="9.2" font-weight="700" fill="#1a1a1a" stroke="#1a1a1a" stroke-width="0.26" textLength="146.6" lengthAdjust="spacingAndGlyphs">Šio šviestuvo lemputės nekeičiamos.</text>
<text x="189.0" y="315.5" font-size="45.7" font-weight="400" fill="#6a6a6a" stroke="#6a6a6a" stroke-width="0.25" textLength="41.55" lengthAdjust="spacingAndGlyphs">LT</text>
</g>
<g transform="translate(766.8,341.83)">
<rect x="12.0" y="6.0" width="158.6" height="330.4" rx="4.5" ry="4.5" fill="#fff" stroke="#c6f4fc" stroke-width="4.6"/>
<rect x="12.0" y="6.0" width="158.6" height="330.4" rx="4.5" ry="4.5" fill="none" stroke="#4197bf" stroke-width="2.3"/>
<text x="19.6" y="41.3" font-size="8.7" font-weight="700" fill="#2a2a2a" textLength="20.6" lengthAdjust="spacingAndGlyphs">EGLO</text>
<text x="78.0" y="41.3" font-size="8.7" font-weight="700" fill="#2a2a2a" textLength="23.54" lengthAdjust="spacingAndGlyphs">94724</text>
<rect x="17.3" y="46.6" width="148" height="3.6" fill="#d2f6fb"/>
<rect x="17.3" y="47.55" width="148" height="1.7" fill="#5f9cad"/>
<rect x="17.55" y="56.2" width="43.45" height="43.3" rx="2.5" ry="2.5" fill="#f3fdff" stroke="#c8f3fb" stroke-width="3.4"/>
<rect x="17.55" y="56.2" width="43.45" height="43.3" rx="2.5" ry="2.5" fill="none" stroke="#4f98b4" stroke-width="1.4"/>
<g transform="translate(39.55,78.15) rotate(-45)" fill="none" stroke="#3d9bbd" stroke-width="1.5" stroke-linejoin="round" stroke-linecap="round">
<line x1="-19.4" y1="0" x2="17.8" y2="0"/>
<rect x="-14.4" y="-12.6" width="9.3" height="9.3" rx="1.2" fill="#f0fcff"/>
<line x1="-14" y1="-11.1" x2="-5.5" y2="-11.1" stroke-width="0.9"/>
<rect x="-12.9" y="-3.3" width="5.6" height="9.3" rx="0.8" fill="#f0fcff"/>
<rect x="3.2" y="3.6" width="9.6" height="9.3" rx="1.2" fill="#f0fcff"/>
<line x1="3.6" y1="11.4" x2="12.4" y2="11.4" stroke-width="0.9"/>
<rect x="6.6" y="-5.7" width="4.4" height="9.3" rx="0.8" fill="#f0fcff"/>
</g>
<path d="M17.5 113.20 H42.90 L51.50 121.80 L42.90 130.40 H17.5 Z" fill="#1a9a4f"/>
<text x="20.8" y="127.60" font-size="15.4" font-weight="700" fill="#fffbe6">A</text>
<path d="M17.5 133.20 H48.25 L56.85 141.80 L48.25 150.40 H17.5 Z" fill="#4db349"/>
<text x="20.8" y="147.60" font-size="15.4" font-weight="700" fill="#fffbe6">A</text>
<path d="M17.5 153.20 H53.60 L62.20 161.80 L53.60 170.40 H17.5 Z" fill="#c3d234"/>
<text x="20.8" y="167.60" font-size="15.4" font-weight="700" fill="#fffbe6">A</text>
<path d="M17.5 173.20 H58.95 L67.55 181.80 L58.95 190.40 H17.5 Z" fill="#fbe70e"/>
<path d="M17.5 193.20 H64.30 L72.90 201.80 L64.30 210.40 H17.5 Z" fill="#f6ae1e"/>
<text x="20.8" y="207.60" font-size="15.4" font-weight="700" fill="#fffbe6">C</text>
<path d="M17.5 213.20 H69.65 L78.25 221.80 L69.65 230.40 H17.5 Z" fill="#ed7b24"/>
<text x="20.8" y="227.60" font-size="15.4" font-weight="700" fill="#fffbe6">D</text>
<path d="M17.5 233.20 H75.00 L83.60 241.80 L75.00 250.40 H17.5 Z" fill="#e81e28"/>
<text x="20.8" y="247.60" font-size="15.4" font-weight="700" fill="#fffbe6">E</text>
<text x="31.8" y="122.1" font-size="9" font-weight="700" fill="#f4fff4">++</text>
<text x="31.8" y="142.1" font-size="9" font-weight="700" fill="#f4fff4">+</text>
<path d="M17.4 174 L93.4 249.2 M93 174 L17.7 248.6" stroke="#c4282d" stroke-width="3.5" fill="none"/>
<path d="M101.6 113.6 C108 113.6 109.8 116 109.8 121 V135.5 C109.8 139 111.5 141.3 115 141.6 C111.5 142 109.8 144.2 109.8 148 V162.5 C109.8 167.5 108 170.2 101.6 170.2" fill="none" stroke="#3094c2" stroke-width="2.7"/>
<text x="120.4" y="131.3" font-size="18.6" font-weight="400" fill="#111" textLength="10.9" lengthAdjust="spacingAndGlyphs">L</text>
<text x="120.4" y="148.2" font-size="18.6" font-weight="400" fill="#111" textLength="10.9" lengthAdjust="spacingAndGlyphs">E</text>
<text x="120.4" y="165.1" font-size="18.6" font-weight="400" fill="#111" textLength="13.5" lengthAdjust="spacingAndGlyphs">D</text>
<rect x="16.1" y="262.0" width="149.5" height="43.3" fill="#fff" stroke="#ccf6fb" stroke-width="3.6"/>
<rect x="16.1" y="262.0" width="149.5" height="43.3" fill="none" stroke="#4e9dbd" stroke-width="1.6"/>
<text x="19.3" y="327.3" font-size="10.0" font-weight="700" fill="#111" stroke="#111" stroke-width="0.3" textLength="42.55" lengthAdjust="spacingAndGlyphs">874/2012</text>
<rect x="139.1" y="311.75" width="25.8" height="16.9" fill="#1d4ea4"/><circle cx="158.40" cy="320.20" r="0.85" fill="#c4d8ec"/><circle cx="157.54" cy="323.40" r="0.85" fill="#c4d8ec"/><circle cx="155.20" cy="325.74" r="0.85" fill="#c4d8ec"/><circle cx="152.00" cy="326.60" r="0.85" fill="#c4d8ec"/><circle cx="148.80" cy="325.74" r="0.85" fill="#c4d8ec"/><circle cx="146.46" cy="323.40" r="0.85" fill="#c4d8ec"/><circle cx="145.60" cy="320.20" r="0.85" fill="#c4d8ec"/><circle cx="146.46" cy="317.00" r="0.85" fill="#c4d8ec"/><circle cx="148.80" cy="314.66" r="0.85" fill="#c4d8ec"/><circle cx="152.00" cy="313.80" r="0.85" fill="#c4d8ec"/><circle cx="155.20" cy="314.66" r="0.85" fill="#c4d8ec"/><circle cx="157.54" cy="317.00" r="0.85" fill="#c4d8ec"/>
</g>
<g transform="translate(768,341.33)">
<text x="66.1" y="63.3" font-size="9.0" font-weight="700" fill="#1a1a1a" stroke="#1a1a1a" stroke-width="0.26" textLength="70.47" lengthAdjust="spacingAndGlyphs">Denne armaturen</text>
<text x="66.1" y="75.9" font-size="9.0" font-weight="700" fill="#1a1a1a" stroke="#1a1a1a" stroke-width="0.26" textLength="87.71" lengthAdjust="spacingAndGlyphs">inneholder innebygde</text>
<text x="66.1" y="88.2" font-size="9.0" font-weight="700" fill="#1a1a1a" stroke="#1a1a1a" stroke-width="0.26" textLength="48.97" lengthAdjust="spacingAndGlyphs">LED-lamper.</text>
<text x="18.5" y="277.6" font-size="9.2" font-weight="700" fill="#1a1a1a" stroke="#1a1a1a" stroke-width="0.26" textLength="144.31" lengthAdjust="spacingAndGlyphs">Lamper ikke kan byttes i armaturen.</text>
<text x="188.88" y="315.5" font-size="45.7" font-weight="400" fill="#6a6a6a" stroke="#6a6a6a" stroke-width="0.25" textLength="55.51" lengthAdjust="spacingAndGlyphs">NB</text>
</g>
<g transform="translate(0,682.72)">
<rect x="12.0" y="6.0" width="158.6" height="330.4" rx="4.5" ry="4.5" fill="#fff" stroke="#c6f4fc" stroke-width="4.6"/>
<rect x="12.0" y="6.0" width="158.6" height="330.4" rx="4.5" ry="4.5" fill="none" stroke="#4197bf" stroke-width="2.3"/>
<text x="19.6" y="41.3" font-size="8.7" font-weight="700" fill="#2a2a2a" textLength="20.6" lengthAdjust="spacingAndGlyphs">EGLO</text>
<text x="78.0" y="41.3" font-size="8.7" font-weight="700" fill="#2a2a2a" textLength="23.54" lengthAdjust="spacingAndGlyphs">94724</text>
<rect x="17.3" y="46.6" width="148" height="3.6" fill="#d2f6fb"/>
<rect x="17.3" y="47.55" width="148" height="1.7" fill="#5f9cad"/>
<rect x="17.55" y="56.2" width="43.45" height="43.3" rx="2.5" ry="2.5" fill="#f3fdff" stroke="#c8f3fb" stroke-width="3.4"/>
<rect x="17.55" y="56.2" width="43.45" height="43.3" rx="2.5" ry="2.5" fill="none" stroke="#4f98b4" stroke-width="1.4"/>
<g transform="translate(39.55,78.15) rotate(-45)" fill="none" stroke="#3d9bbd" stroke-width="1.5" stroke-linejoin="round" stroke-linecap="round">
<line x1="-19.4" y1="0" x2="17.8" y2="0"/>
<rect x="-14.4" y="-12.6" width="9.3" height="9.3" rx="1.2" fill="#f0fcff"/>
<line x1="-14" y1="-11.1" x2="-5.5" y2="-11.1" stroke-width="0.9"/>
<rect x="-12.9" y="-3.3" width="5.6" height="9.3" rx="0.8" fill="#f0fcff"/>
<rect x="3.2" y="3.6" width="9.6" height="9.3" rx="1.2" fill="#f0fcff"/>
<line x1="3.6" y1="11.4" x2="12.4" y2="11.4" stroke-width="0.9"/>
<rect x="6.6" y="-5.7" width="4.4" height="9.3" rx="0.8" fill="#f0fcff"/>
</g>
<path d="M17.5 113.20 H42.90 L51.50 121.80 L42.90 130.40 H17.5 Z" fill="#1a9a4f"/>
<text x="20.8" y="127.60" font-size="15.4" font-weight="700" fill="#fffbe6">A</text>
<path d="M17.5 133.20 H48.25 L56.85 141.80 L48.25 150.40 H17.5 Z" fill="#4db349"/>
<text x="20.8" y="147.60" font-size="15.4" font-weight="700" fill="#fffbe6">A</text>
<path d="M17.5 153.20 H53.60 L62.20 161.80 L53.60 170.40 H17.5 Z" fill="#c3d234"/>
<text x="20.8" y="167.60" font-size="15.4" font-weight="700" fill="#fffbe6">A</text>
<path d="M17.5 173.20 H58.95 L67.55 181.80 L58.95 190.40 H17.5 Z" fill="#fbe70e"/>
<path d="M17.5 193.20 H64.30 L72.90 201.80 L64.30 210.40 H17.5 Z" fill="#f6ae1e"/>
<text x="20.8" y="207.60" font-size="15.4" font-weight="700" fill="#fffbe6">C</text>
<path d="M17.5 213.20 H69.65 L78.25 221.80 L69.65 230.40 H17.5 Z" fill="#ed7b24"/>
<text x="20.8" y="227.60" font-size="15.4" font-weight="700" fill="#fffbe6">D</text>
<path d="M17.5 233.20 H75.00 L83.60 241.80 L75.00 250.40 H17.5 Z" fill="#e81e28"/>
<text x="20.8" y="247.60" font-size="15.4" font-weight="700" fill="#fffbe6">E</text>
<text x="31.8" y="122.1" font-size="9" font-weight="700" fill="#f4fff4">++</text>
<text x="31.8" y="142.1" font-size="9" font-weight="700" fill="#f4fff4">+</text>
<path d="M17.4 174 L93.4 249.2 M93 174 L17.7 248.6" stroke="#c4282d" stroke-width="3.5" fill="none"/>
<path d="M101.6 113.6 C108 113.6 109.8 116 109.8 121 V135.5 C109.8 139 111.5 141.3 115 141.6 C111.5 142 109.8 144.2 109.8 148 V162.5 C109.8 167.5 108 170.2 101.6 170.2" fill="none" stroke="#3094c2" stroke-width="2.7"/>
<text x="120.4" y="131.3" font-size="18.6" font-weight="400" fill="#111" textLength="10.9" lengthAdjust="spacingAndGlyphs">L</text>
<text x="120.4" y="148.2" font-size="18.6" font-weight="400" fill="#111" textLength="10.9" lengthAdjust="spacingAndGlyphs">E</text>
<text x="120.4" y="165.1" font-size="18.6" font-weight="400" fill="#111" textLength="13.5" lengthAdjust="spacingAndGlyphs">D</text>
<rect x="16.1" y="262.0" width="149.5" height="43.3" fill="#fff" stroke="#ccf6fb" stroke-width="3.6"/>
<rect x="16.1" y="262.0" width="149.5" height="43.3" fill="none" stroke="#4e9dbd" stroke-width="1.6"/>
<text x="19.3" y="327.3" font-size="10.0" font-weight="700" fill="#111" stroke="#111" stroke-width="0.3" textLength="42.55" lengthAdjust="spacingAndGlyphs">874/2012</text>
<rect x="139.1" y="311.75" width="25.8" height="16.9" fill="#1d4ea4"/><circle cx="158.40" cy="320.20" r="0.85" fill="#c4d8ec"/><circle cx="157.54" cy="323.40" r="0.85" fill="#c4d8ec"/><circle cx="155.20" cy="325.74" r="0.85" fill="#c4d8ec"/><circle cx="152.00" cy="326.60" r="0.85" fill="#c4d8ec"/><circle cx="148.80" cy="325.74" r="0.85" fill="#c4d8ec"/><circle cx="146.46" cy="323.40" r="0.85" fill="#c4d8ec"/><circle cx="145.60" cy="320.20" r="0.85" fill="#c4d8ec"/><circle cx="146.46" cy="317.00" r="0.85" fill="#c4d8ec"/><circle cx="148.80" cy="314.66" r="0.85" fill="#c4d8ec"/><circle cx="152.00" cy="313.80" r="0.85" fill="#c4d8ec"/><circle cx="155.20" cy="314.66" r="0.85" fill="#c4d8ec"/><circle cx="157.54" cy="317.00" r="0.85" fill="#c4d8ec"/>
</g>
<g transform="translate(0,682.67)">
<text x="66.1" y="64.0" font-size="9.0" font-weight="700" fill="#1a1a1a" stroke="#1a1a1a" stroke-width="0.26" textLength="70.0" lengthAdjust="spacingAndGlyphs">Aceste corpuri de</text>
<text x="66.1" y="76.2" font-size="9.0" font-weight="700" fill="#1a1a1a" stroke="#1a1a1a" stroke-width="0.26" textLength="100.15" lengthAdjust="spacingAndGlyphs">iluminat au becuri cu LED</text>
<text x="66.1" y="88.9" font-size="9.0" font-weight="700" fill="#1a1a1a" stroke="#1a1a1a" stroke-width="0.26" textLength="44.17" lengthAdjust="spacingAndGlyphs">incorporat.</text>
<text x="19.3" y="277.3" font-size="9.2" font-weight="700" fill="#1a1a1a" stroke="#1a1a1a" stroke-width="0.26" textLength="121.55" lengthAdjust="spacingAndGlyphs">Becurile nu pot fi schimbate în</text>
<text x="19.3" y="287.8" font-size="9.2" font-weight="700" fill="#1a1a1a" stroke="#1a1a1a" stroke-width="0.26" textLength="74.71" lengthAdjust="spacingAndGlyphs">corpul de iluminat.</text>
<text x="189.04" y="315.5" font-size="45.7" font-weight="400" fill="#6a6a6a" stroke="#6a6a6a" stroke-width="0.25" textLength="56.12" lengthAdjust="spacingAndGlyphs">RO</text>
</g>
<g transform="translate(255.2,682.72)">
<rect x="12.0" y="6.0" width="158.6" height="330.4" rx="4.5" ry="4.5" fill="#fff" stroke="#c6f4fc" stroke-width="4.6"/>
<rect x="12.0" y="6.0" width="158.6" height="330.4" rx="4.5" ry="4.5" fill="none" stroke="#4197bf" stroke-width="2.3"/>
<text x="19.6" y="41.3" font-size="8.7" font-weight="700" fill="#2a2a2a" textLength="20.6" lengthAdjust="spacingAndGlyphs">EGLO</text>
<text x="78.0" y="41.3" font-size="8.7" font-weight="700" fill="#2a2a2a" textLength="23.54" lengthAdjust="spacingAndGlyphs">94724</text>
<rect x="17.3" y="46.6" width="148" height="3.6" fill="#d2f6fb"/>
<rect x="17.3" y="47.55" width="148" height="1.7" fill="#5f9cad"/>
<rect x="17.55" y="56.2" width="43.45" height="43.3" rx="2.5" ry="2.5" fill="#f3fdff" stroke="#c8f3fb" stroke-width="3.4"/>
<rect x="17.55" y="56.2" width="43.45" height="43.3" rx="2.5" ry="2.5" fill="none" stroke="#4f98b4" stroke-width="1.4"/>
<g transform="translate(39.55,78.15) rotate(-45)" fill="none" stroke="#3d9bbd" stroke-width="1.5" stroke-linejoin="round" stroke-linecap="round">
<line x1="-19.4" y1="0" x2="17.8" y2="0"/>
<rect x="-14.4" y="-12.6" width="9.3" height="9.3" rx="1.2" fill="#f0fcff"/>
<line x1="-14" y1="-11.1" x2="-5.5" y2="-11.1" stroke-width="0.9"/>
<rect x="-12.9" y="-3.3" width="5.6" height="9.3" rx="0.8" fill="#f0fcff"/>
<rect x="3.2" y="3.6" width="9.6" height="9.3" rx="1.2" fill="#f0fcff"/>
<line x1="3.6" y1="11.4" x2="12.4" y2="11.4" stroke-width="0.9"/>
<rect x="6.6" y="-5.7" width="4.4" height="9.3" rx="0.8" fill="#f0fcff"/>
</g>
<path d="M17.5 113.20 H42.90 L51.50 121.80 L42.90 130.40 H17.5 Z" fill="#1a9a4f"/>
<text x="20.8" y="127.60" font-size="15.4" font-weight="700" fill="#fffbe6">A</text>
<path d="M17.5 133.20 H48.25 L56.85 141.80 L48.25 150.40 H17.5 Z" fill="#4db349"/>
<text x="20.8" y="147.60" font-size="15.4" font-weight="700" fill="#fffbe6">A</text>
<path d="M17.5 153.20 H53.60 L62.20 161.80 L53.60 170.40 H17.5 Z" fill="#c3d234"/>
<text x="20.8" y="167.60" font-size="15.4" font-weight="700" fill="#fffbe6">A</text>
<path d="M17.5 173.20 H58.95 L67.55 181.80 L58.95 190.40 H17.5 Z" fill="#fbe70e"/>
<path d="M17.5 193.20 H64.30 L72.90 201.80 L64.30 210.40 H17.5 Z" fill="#f6ae1e"/>
<text x="20.8" y="207.60" font-size="15.4" font-weight="700" fill="#fffbe6">C</text>
<path d="M17.5 213.20 H69.65 L78.25 221.80 L69.65 230.40 H17.5 Z" fill="#ed7b24"/>
<text x="20.8" y="227.60" font-size="15.4" font-weight="700" fill="#fffbe6">D</text>
<path d="M17.5 233.20 H75.00 L83.60 241.80 L75.00 250.40 H17.5 Z" fill="#e81e28"/>
<text x="20.8" y="247.60" font-size="15.4" font-weight="700" fill="#fffbe6">E</text>
<text x="31.8" y="122.1" font-size="9" font-weight="700" fill="#f4fff4">++</text>
<text x="31.8" y="142.1" font-size="9" font-weight="700" fill="#f4fff4">+</text>
<path d="M17.4 174 L93.4 249.2 M93 174 L17.7 248.6" stroke="#c4282d" stroke-width="3.5" fill="none"/>
<path d="M101.6 113.6 C108 113.6 109.8 116 109.8 121 V135.5 C109.8 139 111.5 141.3 115 141.6 C111.5 142 109.8 144.2 109.8 148 V162.5 C109.8 167.5 108 170.2 101.6 170.2" fill="none" stroke="#3094c2" stroke-width="2.7"/>
<text x="120.4" y="131.3" font-size="18.6" font-weight="400" fill="#111" textLength="10.9" lengthAdjust="spacingAndGlyphs">L</text>
<text x="120.4" y="148.2" font-size="18.6" font-weight="400" fill="#111" textLength="10.9" lengthAdjust="spacingAndGlyphs">E</text>
<text x="120.4" y="165.1" font-size="18.6" font-weight="400" fill="#111" textLength="13.5" lengthAdjust="spacingAndGlyphs">D</text>
<rect x="16.1" y="262.0" width="149.5" height="43.3" fill="#fff" stroke="#ccf6fb" stroke-width="3.6"/>
<rect x="16.1" y="262.0" width="149.5" height="43.3" fill="none" stroke="#4e9dbd" stroke-width="1.6"/>
<text x="19.3" y="327.3" font-size="10.0" font-weight="700" fill="#111" stroke="#111" stroke-width="0.3" textLength="42.55" lengthAdjust="spacingAndGlyphs">874/2012</text>
<rect x="139.1" y="311.75" width="25.8" height="16.9" fill="#1d4ea4"/><circle cx="158.40" cy="320.20" r="0.85" fill="#c4d8ec"/><circle cx="157.54" cy="323.40" r="0.85" fill="#c4d8ec"/><circle cx="155.20" cy="325.74" r="0.85" fill="#c4d8ec"/><circle cx="152.00" cy="326.60" r="0.85" fill="#c4d8ec"/><circle cx="148.80" cy="325.74" r="0.85" fill="#c4d8ec"/><circle cx="146.46" cy="323.40" r="0.85" fill="#c4d8ec"/><circle cx="145.60" cy="320.20" r="0.85" fill="#c4d8ec"/><circle cx="146.46" cy="317.00" r="0.85" fill="#c4d8ec"/><circle cx="148.80" cy="314.66" r="0.85" fill="#c4d8ec"/><circle cx="152.00" cy="313.80" r="0.85" fill="#c4d8ec"/><circle cx="155.20" cy="314.66" r="0.85" fill="#c4d8ec"/><circle cx="157.54" cy="317.00" r="0.85" fill="#c4d8ec"/>
</g>
<g transform="translate(256,682.67)">
<text x="66.1" y="70.4" font-size="9.0" font-weight="700" fill="#1a1a1a" stroke="#1a1a1a" stroke-width="0.26" textLength="93.71" lengthAdjust="spacingAndGlyphs">Toto svietidlo obsahuje</text>
<text x="66.1" y="82.5" font-size="9.0" font-weight="700" fill="#1a1a1a" stroke="#1a1a1a" stroke-width="0.26" textLength="82.26" lengthAdjust="spacingAndGlyphs">vstavané LED lampy.</text>
<text x="19.3" y="277.3" font-size="9.2" font-weight="700" fill="#1a1a1a" stroke="#1a1a1a" stroke-width="0.26" textLength="121.79" lengthAdjust="spacingAndGlyphs">Lampy nemôžu byť zmenené v</text>
<text x="19.3" y="287.8" font-size="9.2" font-weight="700" fill="#1a1a1a" stroke="#1a1a1a" stroke-width="0.26" textLength="36.11" lengthAdjust="spacingAndGlyphs">svietidle.</text>
<text x="189.97" y="315.5" font-size="45.7" font-weight="400" fill="#6a6a6a" stroke="#6a6a6a" stroke-width="0.25" textLength="46.59" lengthAdjust="spacingAndGlyphs">SK</text>
</g>
<g transform="translate(511.5,682.72)">
<rect x="12.0" y="6.0" width="158.6" height="330.4" rx="4.5" ry="4.5" fill="#fff" stroke="#c6f4fc" stroke-width="4.6"/>
<rect x="12.0" y="6.0" width="158.6" height="330.4" rx="4.5" ry="4.5" fill="none" stroke="#4197bf" stroke-width="2.3"/>
<text x="19.6" y="41.3" font-size="8.7" font-weight="700" fill="#2a2a2a" textLength="20.6" lengthAdjust="spacingAndGlyphs">EGLO</text>
<text x="78.0" y="41.3" font-size="8.7" font-weight="700" fill="#2a2a2a" textLength="23.54" lengthAdjust="spacingAndGlyphs">94724</text>
<rect x="17.3" y="46.6" width="148" height="3.6" fill="#d2f6fb"/>
<rect x="17.3" y="47.55" width="148" height="1.7" fill="#5f9cad"/>
<rect x="17.55" y="56.2" width="43.45" height="43.3" rx="2.5" ry="2.5" fill="#f3fdff" stroke="#c8f3fb" stroke-width="3.4"/>
<rect x="17.55" y="56.2" width="43.45" height="43.3" rx="2.5" ry="2.5" fill="none" stroke="#4f98b4" stroke-width="1.4"/>
<g transform="translate(39.55,78.15) rotate(-45)" fill="none" stroke="#3d9bbd" stroke-width="1.5" stroke-linejoin="round" stroke-linecap="round">
<line x1="-19.4" y1="0" x2="17.8" y2="0"/>
<rect x="-14.4" y="-12.6" width="9.3" height="9.3" rx="1.2" fill="#f0fcff"/>
<line x1="-14" y1="-11.1" x2="-5.5" y2="-11.1" stroke-width="0.9"/>
<rect x="-12.9" y="-3.3" width="5.6" height="9.3" rx="0.8" fill="#f0fcff"/>
<rect x="3.2" y="3.6" width="9.6" height="9.3" rx="1.2" fill="#f0fcff"/>
<line x1="3.6" y1="11.4" x2="12.4" y2="11.4" stroke-width="0.9"/>
<rect x="6.6" y="-5.7" width="4.4" height="9.3" rx="0.8" fill="#f0fcff"/>
</g>
<path d="M17.5 113.20 H42.90 L51.50 121.80 L42.90 130.40 H17.5 Z" fill="#1a9a4f"/>
<text x="20.8" y="127.60" font-size="15.4" font-weight="700" fill="#fffbe6">A</text>
<path d="M17.5 133.20 H48.25 L56.85 141.80 L48.25 150.40 H17.5 Z" fill="#4db349"/>
<text x="20.8" y="147.60" font-size="15.4" font-weight="700" fill="#fffbe6">A</text>
<path d="M17.5 153.20 H53.60 L62.20 161.80 L53.60 170.40 H17.5 Z" fill="#c3d234"/>
<text x="20.8" y="167.60" font-size="15.4" font-weight="700" fill="#fffbe6">A</text>
<path d="M17.5 173.20 H58.95 L67.55 181.80 L58.95 190.40 H17.5 Z" fill="#fbe70e"/>
<path d="M17.5 193.20 H64.30 L72.90 201.80 L64.30 210.40 H17.5 Z" fill="#f6ae1e"/>
<text x="20.8" y="207.60" font-size="15.4" font-weight="700" fill="#fffbe6">C</text>
<path d="M17.5 213.20 H69.65 L78.25 221.80 L69.65 230.40 H17.5 Z" fill="#ed7b24"/>
<text x="20.8" y="227.60" font-size="15.4" font-weight="700" fill="#fffbe6">D</text>
<path d="M17.5 233.20 H75.00 L83.60 241.80 L75.00 250.40 H17.5 Z" fill="#e81e28"/>
<text x="20.8" y="247.60" font-size="15.4" font-weight="700" fill="#fffbe6">E</text>
<text x="31.8" y="122.1" font-size="9" font-weight="700" fill="#f4fff4">++</text>
<text x="31.8" y="142.1" font-size="9" font-weight="700" fill="#f4fff4">+</text>
<path d="M17.4 174 L93.4 249.2 M93 174 L17.7 248.6" stroke="#c4282d" stroke-width="3.5" fill="none"/>
<path d="M101.6 113.6 C108 113.6 109.8 116 109.8 121 V135.5 C109.8 139 111.5 141.3 115 141.6 C111.5 142 109.8 144.2 109.8 148 V162.5 C109.8 167.5 108 170.2 101.6 170.2" fill="none" stroke="#3094c2" stroke-width="2.7"/>
<text x="120.4" y="131.3" font-size="18.6" font-weight="400" fill="#111" textLength="10.9" lengthAdjust="spacingAndGlyphs">L</text>
<text x="120.4" y="148.2" font-size="18.6" font-weight="400" fill="#111" textLength="10.9" lengthAdjust="spacingAndGlyphs">E</text>
<text x="120.4" y="165.1" font-size="18.6" font-weight="400" fill="#111" textLength="13.5" lengthAdjust="spacingAndGlyphs">D</text>
<rect x="16.1" y="262.0" width="149.5" height="43.3" fill="#fff" stroke="#ccf6fb" stroke-width="3.6"/>
<rect x="16.1" y="262.0" width="149.5" height="43.3" fill="none" stroke="#4e9dbd" stroke-width="1.6"/>
<text x="19.3" y="327.3" font-size="10.0" font-weight="700" fill="#111" stroke="#111" stroke-width="0.3" textLength="42.55" lengthAdjust="spacingAndGlyphs">874/2012</text>
<rect x="139.1" y="311.75" width="25.8" height="16.9" fill="#1d4ea4"/><circle cx="158.40" cy="320.20" r="0.85" fill="#c4d8ec"/><circle cx="157.54" cy="323.40" r="0.85" fill="#c4d8ec"/><circle cx="155.20" cy="325.74" r="0.85" fill="#c4d8ec"/><circle cx="152.00" cy="326.60" r="0.85" fill="#c4d8ec"/><circle cx="148.80" cy="325.74" r="0.85" fill="#c4d8ec"/><circle cx="146.46" cy="323.40" r="0.85" fill="#c4d8ec"/><circle cx="145.60" cy="320.20" r="0.85" fill="#c4d8ec"/><circle cx="146.46" cy="317.00" r="0.85" fill="#c4d8ec"/><circle cx="148.80" cy="314.66" r="0.85" fill="#c4d8ec"/><circle cx="152.00" cy="313.80" r="0.85" fill="#c4d8ec"/><circle cx="155.20" cy="314.66" r="0.85" fill="#c4d8ec"/><circle cx="157.54" cy="317.00" r="0.85" fill="#c4d8ec"/>
</g>
<g transform="translate(512,682.67)">
<text x="66.1" y="70.4" font-size="9.0" font-weight="700" fill="#1a1a1a" stroke="#1a1a1a" stroke-width="0.26" textLength="75.4" lengthAdjust="spacingAndGlyphs">Ta svetilka vsebuje</text>
<text x="66.1" y="82.5" font-size="9.0" font-weight="700" fill="#1a1a1a" stroke="#1a1a1a" stroke-width="0.26" textLength="88.16" lengthAdjust="spacingAndGlyphs">vgrajeno LED svetilke.</text>
<text x="18.8" y="277.3" font-size="9.2" font-weight="700" fill="#1a1a1a" stroke="#1a1a1a" stroke-width="0.26" textLength="129.09" lengthAdjust="spacingAndGlyphs">Svetilke se ne more spremeniti v</text>
<text x="18.8" y="287.8" font-size="9.2" font-weight="700" fill="#1a1a1a" stroke="#1a1a1a" stroke-width="0.26" textLength="32.79" lengthAdjust="spacingAndGlyphs">svetilko.</text>
<text x="189.96" y="315.5" font-size="45.7" font-weight="400" fill="#6a6a6a" stroke="#6a6a6a" stroke-width="0.25" textLength="42.92" lengthAdjust="spacingAndGlyphs">SL</text>
</g>
<rect x="0.0" y="0" width="1" height="1024" fill="#777"/>
<rect x="255.0" y="0" width="2" height="1024" fill="#777"/>
<rect x="511.0" y="0" width="2" height="1024" fill="#777"/>
<rect x="767.0" y="0" width="2" height="1024" fill="#777"/>
<rect x="1023.0" y="0" width="1" height="1024" fill="#777"/>
<rect x="0" y="0.0" width="1024" height="1" fill="#777"/>
<rect x="0" y="340.4" width="1024" height="2" fill="#777"/>
<rect x="0" y="681.7" width="1024" height="2" fill="#777"/>
<rect x="0" y="1023.0" width="1024" height="1" fill="#777"/>
</svg></body></html>
